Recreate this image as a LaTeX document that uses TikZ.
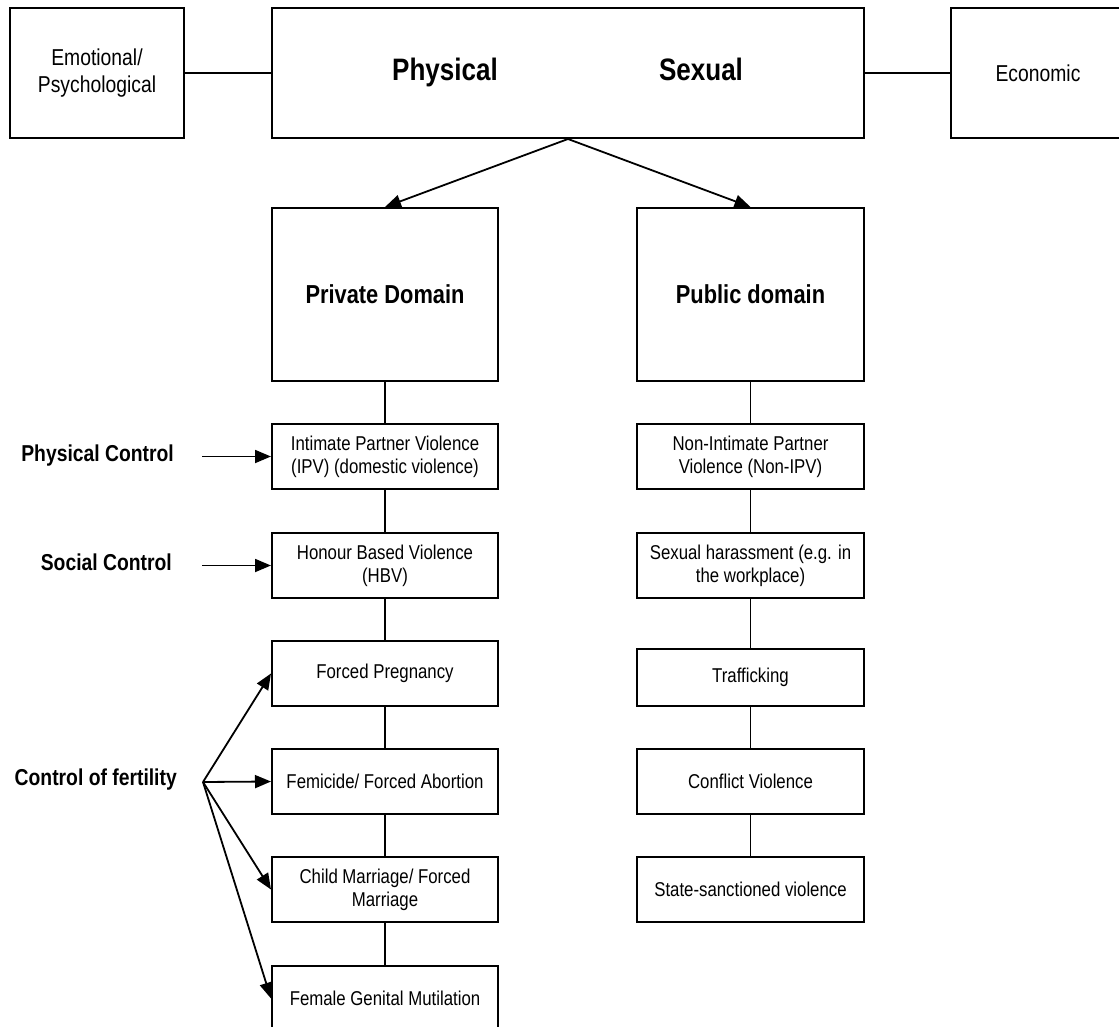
\documentclass[tikz,border=0pt]{standalone}
\usepackage{fontspec}
\setmainfont{Liberation Sans}[FakeStretch=0.84]
\usepackage{tikz}
\usetikzlibrary{positioning,arrows.meta}

\begin{document}
\begin{tikzpicture}[x=1pt, y=-1pt,
            cell/.style={draw, line width=2pt, minimum width=226pt, minimum height=65pt, inner sep=0pt, align=center, font=\fontsize{20}{22.7}\selectfont},
            topbox/.style={draw, line width=2pt, minimum width=174pt, minimum height=130pt, inner sep=0pt, align=center, font=\fontsize{23}{27}\selectfont},
            realm/.style={draw, line width=2pt, minimum width=226pt, minimum height=173pt, inner sep=0pt, font=\bfseries\fontsize{26}{30}\selectfont},
            ctrl/.style={anchor=east, inner sep=0pt, font=\bfseries\fontsize{23}{27}\selectfont},
            head/.style={anchor=base, inner sep=0pt, font=\bfseries\fontsize{31}{36}\selectfont},
            link/.style={line width=1.8pt},
            push/.style={line width=1.8pt, -{Triangle[length=16pt, width=13pt]}}
        ]
            \useasboundingbox (0,0) rectangle (1119,1027);

            % Forms of violence
            \node (emo) at (97,73) [topbox] {Emotional/\\Psychological};
            \node (forms) at (568,73) [topbox, minimum width=592pt] {};
            \node (econ) at (1038,73) [topbox] {Economic};
            \node (phys) at (445,81) [head] {Physical};
            \node (sex) at (701,81) [head] {Sexual};
            \draw [link] (emo) -- (forms);
            \draw [link] (forms) -- (econ);

            % Domains
            \node (priv) at (385,294.5) [realm] {Private Domain};
            \node (publ) at (750.5,294.5) [realm, minimum width=227pt] {Public domain};
            \draw [push] (forms.south) -- (priv.north);
            \draw [push] (forms.south) -- (publ.north);

            % Private domain column
            \node (ipv) at (385,456.5) [cell] {Intimate Partner Violence\\(IPV) (domestic violence)};
            \node (hbv) at (385,565.5) [cell] {Honour Based Violence\\(HBV)};
            \node (preg) at (385,673.5) [cell] {Forced Pregnancy};
            \node (fem) at (385,781.5) [cell] {Femicide/ Forced Abortion};
            \node (marr) at (385,889.5) [cell] {Child Marriage/ Forced\\Marriage};
            \node (fgm) at (385,998.5) [cell] {Female Genital Mutilation};

            % Public domain column
            \node (nipv) at (750.5,456.5) [cell, minimum width=227pt] {Non-Intimate Partner\\Violence (Non-IPV)};
            \node (harass) at (750.5,565.5) [cell, minimum width=227pt] {Sexual harassment (e.g. in\\the workplace)};
            \node (traf) at (750.5,677.5) [cell, minimum width=227pt, minimum height=57pt] {Trafficking};
            \node (confl) at (750.5,781.5) [cell, minimum width=227pt] {Conflict Violence};
            \node (state) at (750.5,889.5) [cell, minimum width=227pt] {State-sanctioned violence};

            \foreach \a/\b in {priv/ipv, ipv/hbv, hbv/preg, preg/fem, fem/marr, marr/fgm,
                               publ/nipv, nipv/harass, harass/traf, traf/confl, confl/state}
                \draw [link] (\a) -- (\b);

            % Kinds of control
            \node (phc) at (174,455.7) [ctrl] {Physical Control};
            \node (soc) at (172,562) [ctrl] {Social Control};
            \node (fert) at (177,780) [ctrl] {Control of fertility};
            \coordinate (phcout) at (202,456.5);
            \coordinate (socout) at (202,565.5);
            \coordinate (fan) at (203,782);
            \draw [push] (phcout) -- (ipv);
            \draw [push] (socout) -- (hbv);
            \foreach \t in {preg, fem, marr, fgm}
                \draw [push] (fan) -- (\t.west);
        \end{tikzpicture}
\end{document}
